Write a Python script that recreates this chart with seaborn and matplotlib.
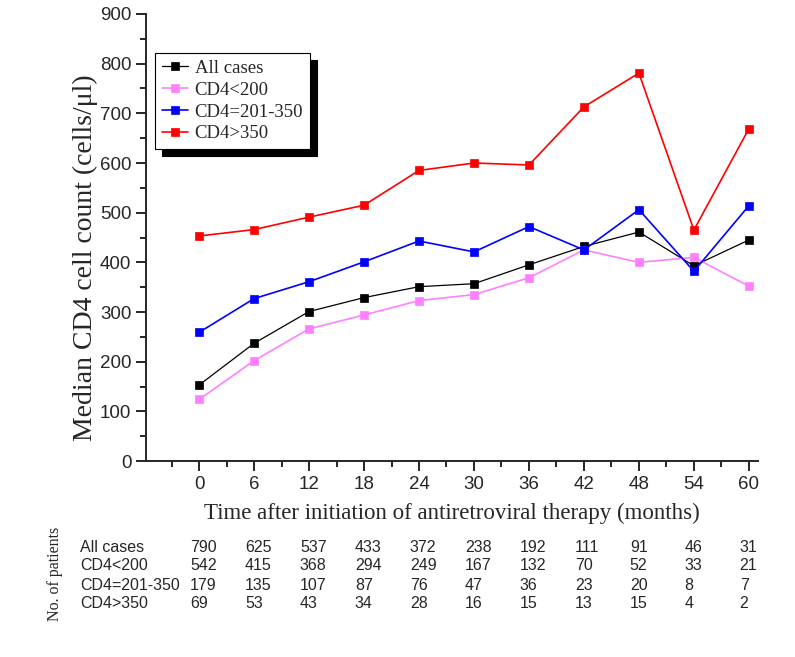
import numpy as np
import pandas as pd
import seaborn as sns
import matplotlib.pyplot as plt
from matplotlib.ticker import MultipleLocator
import matplotlib.transforms as mtransforms

# months after start of ART
months = [0, 6, 12, 18, 24, 30, 36, 42, 48, 54, 60]

# median CD4 counts (cells/ul)
all_cases = [153, 237, 301, 329, 351, 357, 395, 432, 461, 393, 445]
cd4_lt200 = [124, 202, 266, 294, 323, 335, 369, 425, 400, 410, 352]
cd4_201_350 = [259, 327, 361, 401, 443, 421, 472, 425, 506, 382, 514]
cd4_gt350 = [453, 466, 491, 515, 585, 600, 596, 713, 781, 465, 669]

# number of patients table
row_names = ["All cases", "CD4<200", "CD4=201-350", "CD4>350"]
n_all = [790, 625, 537, 433, 372, 238, 192, 111, 91, 46, 31]
n_lt200 = [542, 415, 368, 294, 249, 167, 132, 70, 52, 33, 21]
n_201_350 = [179, 135, 107, 87, 76, 47, 36, 23, 20, 8, 7]
n_gt350 = [69, 53, 43, 34, 28, 16, 15, 13, 15, 4, 2]

sns.set_style("ticks")
plt.rcParams["font.family"] = ["Liberation Sans", "DejaVu Sans"]
serif = ["Liberation Serif", "DejaVu Serif"]

fig = plt.figure(figsize=(7.95, 6.57), dpi=100)
ax = fig.add_axes([0.1836, 0.2983, 0.7699, 0.6804])

series = [
    ("All cases", all_cases, "black", 0.9),
    ("CD4<200", cd4_lt200, "#FF80FF", 1.2),
    ("CD4=201-350", cd4_201_350, "#0000FF", 1.2),
    ("CD4>350", cd4_gt350, "#FF0000", 1.2),
]
for name, vals, col, lw in series:
    df = pd.DataFrame({"month": months, "cd4": vals})
    sns.lineplot(data=df, x="month", y="cd4", ax=ax, color=col, lw=lw,
                 marker="s", markersize=6, markeredgecolor=col,
                 markeredgewidth=0.5, label=name)

ax.set_xlim(-5.8, 61)
ax.set_ylim(0, 900)
ax.xaxis.set_major_locator(MultipleLocator(6))
ax.xaxis.set_minor_locator(MultipleLocator(3))
ax.yaxis.set_major_locator(MultipleLocator(100))
ax.yaxis.set_minor_locator(MultipleLocator(50))
ax.tick_params(which="major", length=7, width=1.4, labelsize=13.5, direction="out")
ax.tick_params(which="minor", length=4, width=1.4, direction="out")
for s in ["top", "right"]:
    ax.spines[s].set_visible(False)
for s in ["left", "bottom"]:
    ax.spines[s].set_linewidth(1.4)

ax.set_xlabel("Time after initiation of antiretroviral therapy (months)",
              family=serif, fontsize=16.5, labelpad=7)
ax.set_ylabel("Median CD4 cell count (cells/\u03bcl)", family=serif,
              fontsize=20, labelpad=1)
ax.yaxis.label.set_y(0.454)

leg = ax.legend(loc="upper left", bbox_to_anchor=(0.015, 0.912),
                borderaxespad=0, frameon=True, fancybox=False,
                edgecolor="black", prop={"family": serif, "size": 13.5},
                handlelength=1.4, handletextpad=0.35, labelspacing=0.25,
                borderpad=0.35, markerscale=0.9,
                shadow={"color": "black", "alpha": 1, "ox": 5, "oy": -5})
leg.get_frame().set_linewidth(0.8)

# patient numbers table below the axis
trans = mtransforms.blended_transform_factory(ax.transData, fig.transFigure)
rows = [n_all, n_lt200, n_201_350, n_gt350]
row_y = [548, 566, 585, 604]
for name, counts, yp in zip(row_names, rows, row_y):
    yf = 1 - yp / 657
    fig.text(80 / 795, yf, name, fontsize=11.5, va="center", ha="left")
    for m, c in zip(months, counts):
        ax.text(m - 1.0, yf, str(c), transform=trans, fontsize=11.5,
                va="center", ha="left", clip_on=False)

fig.text(55 / 795, 1 - 574 / 657, "No. of patients", family=serif,
         fontsize=11.5, rotation=90, va="center", ha="center")

fig.savefig("out.png", dpi=100)
